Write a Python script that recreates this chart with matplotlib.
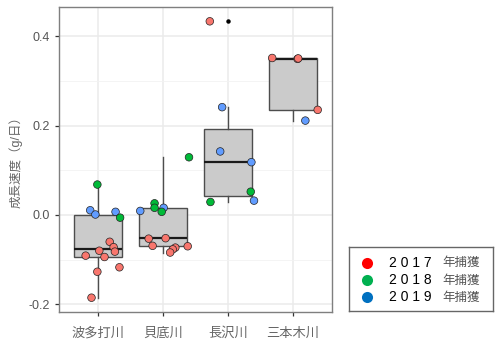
import matplotlib
matplotlib.use("Agg")
import matplotlib.pyplot as plt
import numpy as np
from matplotlib.lines import Line2D
from matplotlib.patches import Rectangle

plt.rcParams['font.family'] = ['Liberation Sans', 'Noto Sans CJK JP', 'DejaVu Sans']

rivers = ['波多打川', '貝底川', '長沢川', '三本木川']
years = [2017, 2018, 2019]
year_labels = ['2 0 1 7', '2 0 1 8', '2 0 1 9']

# per-point data (river index, capture year, growth rate g/day, jitter offset)
river_idx = [0]*14 + [1]*13 + [2]*7 + [3]*5
capture_year = [2018, 2019, 2019, 2019, 2018, 2017, 2017, 2017, 2017, 2017, 2017, 2017, 2017, 2017,
                2018, 2018, 2018, 2019, 2019, 2018, 2017, 2017, 2017, 2017, 2017, 2017, 2017,
                2017, 2019, 2019, 2019, 2018, 2018, 2019,
                2017, 2017, 2017, 2017, 2019]
growth = [0.068, 0.0105, 0.001, 0.007, -0.006, -0.060, -0.072, -0.082, -0.080, -0.091, -0.094, -0.117, -0.127, -0.185,
          0.129, 0.026, 0.016, 0.009, 0.016, 0.007, -0.053, -0.052, -0.069, -0.070, -0.073, -0.077, -0.084,
          0.433, 0.241, 0.142, 0.118, 0.052, 0.029, 0.032,
          0.351, 0.349, 0.350, 0.235, 0.211]
jitter = [-0.01, -0.12, -0.04, 0.27, 0.34, 0.18, 0.24, 0.26, 0.02, -0.19, 0.10, 0.33, -0.01, -0.10,
          0.40, -0.13, -0.13, -0.35, 0.01, -0.02, -0.22, 0.04, -0.16, 0.38, 0.19, 0.15, 0.11,
          -0.28, -0.09, -0.12, 0.36, 0.35, -0.27, 0.40,
          -0.32, 0.07, 0.08, 0.38, 0.19]

point_colors = {2017: '#F8766D', 2018: '#00BA38', 2019: '#619CFF'}
legend_colors = ['#FF0000', '#00B050', '#0070C0']

fig = plt.figure(figsize=(5.0, 3.43), dpi=100)
ax = fig.add_axes([59/500, 31/343, 273/500, 305/343])

ri = np.array(river_idx)
gr = np.array(growth)
groups = [gr[ri == i] for i in range(len(rivers))]
positions = np.arange(1, len(rivers) + 1)

ax.boxplot(groups, positions=positions, widths=0.75, patch_artist=True, showcaps=False,
           boxprops=dict(facecolor='#CBCBCB', edgecolor='#4D4D4D', linewidth=1.0),
           whiskerprops=dict(color='#4D4D4D', linewidth=1.0),
           medianprops=dict(color='#1A1A1A', linewidth=1.6),
           flierprops=dict(marker='o', markersize=2.2, markerfacecolor='black',
                           markeredgecolor='black'),
           zorder=2)

xs = ri + 1 + np.array(jitter)
cols = [point_colors[y] for y in capture_year]
ax.scatter(xs, gr, s=30, c=cols, edgecolors='#222222', linewidths=0.5, zorder=3)

ax.set_xlim(0.4, 4.6)
ax.set_ylim(-0.217, 0.465)
ax.set_yticks([-0.2, 0.0, 0.2, 0.4])
ax.set_yticklabels(['-0.2', '0.0', '0.2', '0.4'])
ax.set_yticks([-0.1, 0.1, 0.3], minor=True)
ax.set_xticks(positions)
ax.set_xticklabels(rivers)
ax.grid(True, which='major', color='#EBEBEB', linewidth=1.1, zorder=0)
ax.grid(True, which='minor', axis='y', color='#F2F2F2', linewidth=0.6, zorder=0)
ax.set_axisbelow(True)
ax.tick_params(axis='both', which='major', length=3, width=0.9, color='#333333',
               labelcolor='#555555', labelsize=9)
ax.tick_params(axis='x', pad=8, labelsize=9.5, labelcolor='#666666')
ax.tick_params(axis='y', which='minor', length=0)
for s in ax.spines.values():
    s.set_color('#7F7F7F')
    s.set_linewidth(1.0)

ax.set_ylabel('成長速度（g/日）', color='#666666', fontsize=9)
ax.yaxis.set_label_coords(-0.135, 0.5)

# legend
lax = fig.add_axes([349/500, 32/343, 144/500, 64/343])
lax.set_xlim(0, 1)
lax.set_ylim(0, 1)
lax.set_xticks([])
lax.set_yticks([])
for s in lax.spines.values():
    s.set_color('#666666')
    s.set_linewidth(1.0)
rows = [0.755, 0.484, 0.214]
for c, lab, yy in zip(legend_colors, year_labels, rows):
    lax.plot([0.125], [yy], marker='o', markersize=8, color=c, markeredgewidth=0)
    lax.text(0.278, yy, lab, color='black', fontsize=10, va='center', ha='left')
    lax.text(0.646, yy, '年捕獲', color='#555555', fontsize=9, va='center', ha='left',
             family=['Noto Sans CJK JP'])

fig.savefig('out.png', dpi=100)
